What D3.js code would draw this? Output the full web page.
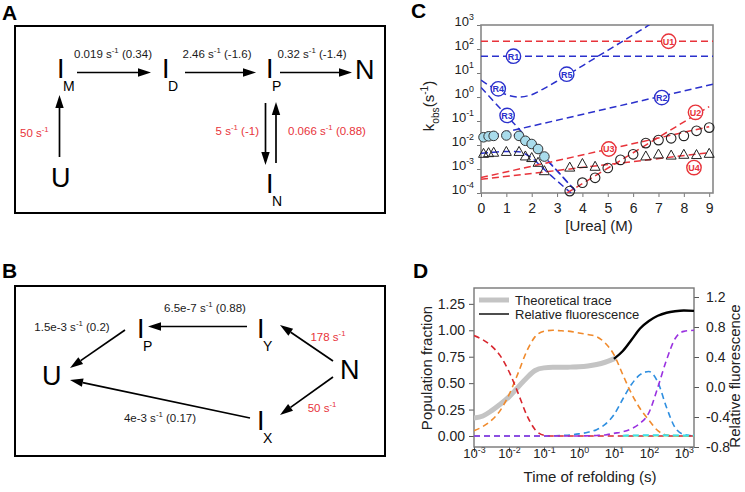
<!DOCTYPE html>
<html><head><meta charset="utf-8">
<script src="https://cdn.jsdelivr.net/npm/d3@7"></script>
<style>body{margin:0;background:#fff}svg{display:block;font-family:Arial,"Liberation Sans",Helvetica,sans-serif}</style>
</head><body><svg id="fig" width="745" height="492"></svg>
<script>
// ---------------- DATA ----------------
// Panel A scheme (refolding)
const aNodes = [["I","M"],["I","D"],["I","P"],["N",""],["U",""],["I","N"]];
const aRates = [["0.019","(0.34)"],["2.46","(-1.6)"],["0.32","(-1.4)"],["50",""],["5","(-1)"],["0.066","(0.88)"]];
// Panel B scheme (unfolding)
const bNodes = [["U",""],["I","P"],["I","Y"],["N",""],["I","X"]];
const bRates = [["6.5e-7","(0.88)"],["1.5e-3","(0.2)"],["178",""],["50",""],["4e-3","(0.17)"]];

// Panel C: chevron data
const cRefCircX = [0.1,0.3,0.5,1,1.5,1.75,2,2.25,2.5];
const cRefCircK = [0.021,0.023,0.024,0.025,0.024,0.015,0.011,0.0068,0.0033];
const cRefTriX  = [0.1,0.3,0.5,1,1.5,1.75,2,2.25,2.5];
const cRefTriK  = [0.0045,0.0048,0.005,0.0054,0.0054,0.0035,0.003,0.0019,0.00085];
const cUnfCircX = [3.5,4,4.5,5,5.5,6,6.5,7,7.5,8,8.5,9];
const cUnfCircK = [0.00012,0.00027,0.00043,0.0011,0.0024,0.0041,0.012,0.016,0.019,0.024,0.039,0.053];
const cUnfTriX  = [3.5,4,4.5,6.5,7,7.5,8,8.5,9];
const cUnfTriK  = [0.0012,0.0017,0.0013,0.0035,0.0042,0.0038,0.0041,0.004,0.0045];
const cU1 = [[0,210],[9.15,210]];
const cR1 = [[0,50],[9.15,50]];
const cR2 = [[0,0.02],[9.15,3.4]];
const cR3 = [[0,2.5],[3.8,0.0001]];
const cR45 = [[0,5.1],[0.5,2.3],[1,1.25],[1.5,1.0],[2,1.25],[2.5,2.3],[3,4.6],[3.5,9.5],[4,20],[4.5,42],[5,88],[5.5,185],[6,390],[6.5,820],[6.75,1250]];
const cCircFit = [[0,0.019],[0.5,0.022],[1,0.025],[1.25,0.026],[1.5,0.023],[1.75,0.016],[2,0.0098],[2.25,0.0055],[2.5,0.003],[3,0.00085],[3.5,0.00022],[3.8,0.0001]];
const cTriFit = [[0,0.0045],[0.5,0.005],[1,0.0054],[1.5,0.0052],[1.75,0.0042],[2,0.0029],[2.25,0.0017],[2.5,0.00095],[3,0.00032],[3.55,0.0001]];
const cU2 = [[3.39,0.0001],[9,0.4]];
const cU3 = [[0,0.00044],[9,0.058]];
const cU4 = [[0,0.00037],[9,0.0048]];
const cLabels = [["U1",7.4,210,"r"],["R1",1.28,50,"b"],["R5",3.38,8.9,"b"],["R4",0.68,2.2,"b"],["R2",7.13,0.95,"b"],["R3",1.03,0.17,"b"],["U2",8.46,0.23,"r"],["U3",5.04,0.0068,"r"],["U4",8.4,0.00115,"r"]];
const cXTicks = [0,1,2,3,4,5,6,7,8,9];
const cYTicks = [1e-4,1e-3,1e-2,1e-1,1,10,100,1000];

// Panel D: population time courses
const dTime   = [0.001,0.0018,0.0032,0.0056,0.01,0.018,0.032,0.056,0.1,0.18,0.32,0.56,1,1.8,3.2,5.6,10,18,32,56,100,180,320,560,1000,1950];
const dU      = [0.95,0.91,0.85,0.76,0.61,0.41,0.20,0.06,0.007,0,0,0,0,0,0,0,0,0,0,0,0,0,0,0,0,0];
const dIM     = [0.05,0.09,0.15,0.24,0.39,0.59,0.80,0.94,0.99,1.0,0.995,0.99,0.975,0.96,0.94,0.88,0.77,0.58,0.40,0.26,0.15,0.05,0.01,0,0,0];
const dIP     = [0,0,0,0,0,0,0,0,0,0.002,0.005,0.01,0.02,0.035,0.06,0.11,0.2,0.35,0.49,0.58,0.61,0.51,0.27,0.08,0.015,0];
const dN      = [0,0,0,0,0,0,0,0,0,0,0,0,0,0.002,0.005,0.01,0.025,0.04,0.07,0.12,0.22,0.46,0.72,0.92,0.99,1.0];
const dMinorT = [18,32,56,100,180,320,560,1000,1950];
const dIN     = [0.004,0.006,0.007,0.008,0.008,0.007,0.006,0.005,0.005];
const dID     = [0.002,0.003,0.004,0.004,0.004,0.003,0.003,0.002,0.002];
const dTheoT  = [0.001,0.0018,0.0032,0.0056,0.01,0.018,0.032,0.056,0.1,0.18,0.32,0.56,1,1.8,3.2,5.6,10];
const dTheo   = [-0.414,-0.386,-0.315,-0.231,-0.132,-0.005,0.121,0.22,0.255,0.262,0.262,0.265,0.269,0.28,0.30,0.33,0.375];
const dFluoT  = [10,18,32,56,100,180,320,560,1000,1950];
const dFluo   = [0.375,0.48,0.63,0.78,0.88,0.95,0.99,1.01,1.02,1.015];
const dXTicks = [1e-3,1e-2,1e-1,1,10,100,1000];
const dYLTicks = [0,0.25,0.5,0.75,1,1.25];
const dYRTicks = [-0.8,-0.4,0,0.4,0.8,1.2];

// ---------------- DRAW ----------------
const RED = "#e8333a", BLUE = "#2a30cc", INK = "#1a1a1a";
const svg = d3.select("#fig");
svg.append("rect").attr("width",745).attr("height",492).attr("fill","#fff");
const defs = svg.append("defs");

function rich(t, parts, fs){
  let off = 0;
  parts.forEach(([s,k])=>{
    const target = k==="sup" ? -fs*0.42 : k==="sub" ? fs*0.35 : 0;
    t.append("tspan").attr("dy",(target-off).toFixed(2)).attr("font-size", k ? fs*0.68 : fs).text(s);
    off = target;
  });
}
function rateParts(r){
  const p = [[r[0]+" s",""],["-1","sup"]];
  if (r[1]) p.push([" "+r[1],""]);
  return p;
}
function label(g,x,y,parts,fs,anchor,color){
  const t = g.append("text").attr("x",x).attr("y",y).attr("text-anchor",anchor||"middle").attr("fill",color||INK).attr("font-size",fs);
  rich(t,parts,fs); return t;
}
function arrow(g,x1,y1,x2,y2){
  const L=13, W=4.2, a=Math.atan2(y2-y1,x2-x1);
  const bx=x2-L*Math.cos(a), by=y2-L*Math.sin(a);
  g.append("line").attr("x1",x1).attr("y1",y1).attr("x2",bx).attr("y2",by).attr("stroke","#000").attr("stroke-width",1.7);
  const px=-Math.sin(a)*W, py=Math.cos(a)*W;
  g.append("path").attr("d",`M${x2},${y2}L${bx+px},${by+py}L${bx-px},${by-py}Z`).attr("fill","#000");
}
function node(g,x,y,n){
  g.append("text").attr("x",x).attr("y",y).attr("font-size",27).attr("fill","#000").text(n[0]);
  if(n[1]) g.append("text").attr("x",x+(n[0]==="I"?6:0)).attr("y",y+13).attr("font-size",14).attr("fill","#000").text(n[1]);
}
function panelLetter(x,y,s){ svg.append("text").attr("x",x).attr("y",y).attr("font-size",21).attr("font-weight","bold").text(s); }

// ---- Panel A ----
panelLetter(2,20,"A");
const gA = svg.append("g");
gA.append("rect").attr("x",15).attr("y",26).attr("width",370).attr("height",187).attr("fill","none").attr("stroke","#000").attr("stroke-width",2);
const aPos = [[57,78],[162,78],[266,78],[355,79],[51,187],[266,193]];
aNodes.forEach((n,i)=>node(gA,aPos[i][0],aPos[i][1],n));
arrow(gA,77,72.5,151,72.5); arrow(gA,185,72.5,256,72.5); arrow(gA,280,72.5,352,72.5);
arrow(gA,59.5,157,59.5,95);
arrow(gA,265.5,103,265.5,165); arrow(gA,276,163,276,102);
label(gA,113,58,rateParts(aRates[0]),11.5);
label(gA,217,58,rateParts(aRates[1]),11.5);
label(gA,312,58,rateParts(aRates[2]),11.5);
label(gA,20,137,rateParts(aRates[3]),11.5,"start",RED);
label(gA,259,135,rateParts(aRates[4]),11.5,"end",RED);
label(gA,288,135,rateParts(aRates[5]),11.5,"start",RED);

// ---- Panel B ----
panelLetter(2,278,"B");
const gB = svg.append("g");
gB.append("rect").attr("x",15).attr("y",286).attr("width",370).attr("height",170).attr("fill","none").attr("stroke","#000").attr("stroke-width",2);
const bPos = [[42,385],[137,338],[257,338],[340,379],[257,430]];
bNodes.forEach((n,i)=>node(gB,bPos[i][0],bPos[i][1],n));
arrow(gB,247,326.5,148,326.5);
arrow(gB,125,330,70,368);
arrow(gB,333,361,280,325);
arrow(gB,333,377,280,415);
arrow(gB,250,418,70,380);
label(gB,205,312,rateParts(bRates[0]),11.5);
label(gB,72,331,rateParts(bRates[1]),11.5);
label(gB,328,341,rateParts(bRates[2]),11.5,"middle",RED);
label(gB,322,412,rateParts(bRates[3]),11.5,"middle",RED);
label(gB,160,422,rateParts(bRates[4]),11.5);

// ---- Panel C ----
panelLetter(411,18,"C");
const cx = d3.scaleLinear().domain([0,9.15]).range([481,713]);
const cy = d3.scaleLog().domain([1e-4,1e3]).range([193,25]);
const gC = svg.append("g");
defs.append("clipPath").attr("id","clipC").append("rect").attr("x",481).attr("y",25).attr("width",232).attr("height",168);
const gAxC = gC.append("g").attr("transform","translate(481,0)")
  .call(d3.axisLeft(cy).tickValues(cYTicks).tickSize(4).tickPadding(3));
gAxC.select(".domain").remove();
gAxC.selectAll(".tick line").attr("stroke","#777");
gAxC.selectAll(".tick text").attr("font-size",13).attr("fill","#222").each(function(d){
  const t=d3.select(this); t.text(null); rich(t,[["10",""],[String(Math.round(Math.log10(d))),"sup"]],13);
});
const gBxC = gC.append("g").attr("transform","translate(0,193)")
  .call(d3.axisBottom(cx).tickValues(cXTicks).tickSize(4).tickPadding(6));
gBxC.select(".domain").remove();
gBxC.selectAll(".tick line").attr("stroke","#777");
gBxC.selectAll(".tick text").attr("font-size",14).attr("fill","#222");
gC.append("rect").attr("x",481).attr("y",25).attr("width",232).attr("height",168).attr("fill","none").attr("stroke","#888").attr("stroke-width",1.6);
const lineC = d3.line().x(d=>cx(d[0])).y(d=>cy(d[1]));
const lineCc = d3.line().x(d=>cx(d[0])).y(d=>cy(d[1])).curve(d3.curveMonotoneX);
const gL = gC.append("g").attr("clip-path","url(#clipC)");
[[cU1,RED,0],[cR1,BLUE,0],[cR2,BLUE,0],[cR3,BLUE,0],[cR45,BLUE,1],[cCircFit,BLUE,1],[cTriFit,BLUE,1],[cU2,RED,0],[cU3,RED,0],[cU4,RED,0]].forEach(([d,c,cur])=>{
  gL.append("path").attr("d",(cur?lineCc:lineC)(d)).attr("fill","none").attr("stroke",c).attr("stroke-width",1.5).attr("stroke-dasharray","7,4");
});
const triPath = "M0,-5L5,4L-5,4Z";
cRefTriX.forEach((x,i)=>gC.append("path").attr("d",triPath).attr("transform",`translate(${cx(x)},${cy(cRefTriK[i])})`).attr("fill","none").attr("stroke","#222").attr("stroke-width",1));
cUnfTriX.forEach((x,i)=>gC.append("path").attr("d",triPath).attr("transform",`translate(${cx(x)},${cy(cUnfTriK[i])})`).attr("fill","none").attr("stroke","#222").attr("stroke-width",1));
cRefCircX.forEach((x,i)=>gC.append("circle").attr("cx",cx(x)).attr("cy",cy(cRefCircK[i])).attr("r",4.8).attr("fill","#a9dcec").attr("stroke","#333").attr("stroke-width",1));
cUnfCircX.forEach((x,i)=>gC.append("circle").attr("cx",cx(x)).attr("cy",cy(cUnfCircK[i])).attr("r",4.8).attr("fill","none").attr("stroke","#222").attr("stroke-width",1.1));
cLabels.forEach(([s,x,k,c])=>{
  const col = c==="r"?RED:BLUE;
  gC.append("circle").attr("cx",cx(x)).attr("cy",cy(k)).attr("r",7.2).attr("fill","#fff").attr("stroke",col).attr("stroke-width",1.4);
  gC.append("text").attr("x",cx(x)).attr("y",cy(k)+3.3).attr("text-anchor","middle").attr("font-size",9).attr("font-weight","bold").attr("fill",col).text(s);
});
gC.append("text").attr("x",599).attr("y",231).attr("text-anchor","middle").attr("font-size",15).attr("fill","#222").text("[Urea] (M)");
{
  const t = gC.append("text").attr("transform","translate(434,106) rotate(-90)").attr("text-anchor","middle").attr("font-size",15).attr("fill","#222");
  rich(t,[["k",""],["obs","sub"],["(s",""],["-1","sup"],[")",""]],15);
}

// ---- Panel D ----
panelLetter(413,278,"D");
const dx = d3.scaleLog().domain([1e-3,1950]).range([474,694]);
const dyL = d3.scaleLinear().domain([-0.104,1.40]).range([447,288]);
const dyR = d3.scaleLinear().domain([-0.8,1.32]).range([447,288]);
const gD = svg.append("g");
defs.append("clipPath").attr("id","clipD").append("rect").attr("x",474).attr("y",288).attr("width",220).attr("height",159);
const axB = gD.append("g").attr("transform","translate(0,447)").call(d3.axisBottom(dx).tickValues(dXTicks).tickSize(5).tickPadding(6));
axB.select(".domain").remove();
axB.selectAll(".tick line").attr("stroke","#555");
axB.selectAll(".tick text").attr("font-size",13).attr("fill","#222").each(function(d){
  const t=d3.select(this); t.text(null); rich(t,[["10",""],[String(Math.round(Math.log10(d))),"sup"]],13);
});
const axL = gD.append("g").attr("transform","translate(474,0)").call(d3.axisLeft(dyL).tickValues(dYLTicks).tickSize(5).tickPadding(4).tickFormat(d=>d.toFixed(2)));
axL.select(".domain").remove();
axL.selectAll(".tick line").attr("stroke","#555");
axL.selectAll(".tick text").attr("font-size",14).attr("fill","#222");
const axR = gD.append("g").attr("transform","translate(694,0)").call(d3.axisRight(dyR).tickValues(dYRTicks).tickSize(5).tickPadding(7).tickFormat(d=>d.toFixed(1)));
axR.select(".domain").remove();
axR.selectAll(".tick line").attr("stroke","#555");
axR.selectAll(".tick text").attr("font-size",14).attr("fill","#222");
gD.append("rect").attr("x",474).attr("y",288).attr("width",220).attr("height",159).attr("fill","none").attr("stroke","#777").attr("stroke-width",1.4);
const gDL = gD.append("g").attr("clip-path","url(#clipD)");
const lineDL = d3.line().x(d=>dx(d[0])).y(d=>dyL(d[1])).curve(d3.curveMonotoneX);
const lineDR = d3.line().x(d=>dx(d[0])).y(d=>dyR(d[1])).curve(d3.curveMonotoneX);
gDL.append("path").attr("d",lineDR(dTheoT.map((t,i)=>[t,dTheo[i]]))).attr("fill","none").attr("stroke","#c4c4c4").attr("stroke-width",5).attr("stroke-linecap","round");
[[dIP,"#2f8fe0"],[dIM,"#f08a2c"],[dU,"#d8262e"],[dN,"#9a32e0"]].forEach(([v,c])=>{
  gDL.append("path").attr("d",lineDL(dTime.map((t,i)=>[t,v[i]]))).attr("fill","none").attr("stroke",c).attr("stroke-width",1.6).attr("stroke-dasharray","6,4");
});
[[dID,"#7de07d"],[dIN,"#3ee0ec"]].forEach(([v,c])=>{
  gDL.append("path").attr("d",lineDL(dMinorT.map((t,i)=>[t,v[i]]))).attr("fill","none").attr("stroke",c).attr("stroke-width",1.8).attr("stroke-dasharray","6,4");
});
gDL.append("path").attr("d",lineDR(dFluoT.map((t,i)=>[t,dFluo[i]]))).attr("fill","none").attr("stroke","#000").attr("stroke-width",2.4);
// legend
gD.append("line").attr("x1",479).attr("x2",509).attr("y1",300).attr("y2",300).attr("stroke","#c4c4c4").attr("stroke-width",5);
gD.append("line").attr("x1",479).attr("x2",509).attr("y1",314).attr("y2",314).attr("stroke","#000").attr("stroke-width",1.4);
gD.append("text").attr("x",515).attr("y",304.5).attr("font-size",13).attr("fill","#222").text("Theoretical trace");
gD.append("text").attr("x",515).attr("y",318.5).attr("font-size",13).attr("fill","#222").text("Relative fluorescence");
gD.append("text").attr("x",590).attr("y",482).attr("text-anchor","middle").attr("font-size",15).attr("fill","#222").text("Time of refolding (s)");
gD.append("text").attr("transform","translate(432,368) rotate(-90)").attr("text-anchor","middle").attr("font-size",15).attr("fill","#222").text("Population fraction");
gD.append("text").attr("transform","translate(740,376) rotate(-90)").attr("text-anchor","middle").attr("font-size",15).attr("fill","#222").text("Relative fluorescence");
</script></body></html>
